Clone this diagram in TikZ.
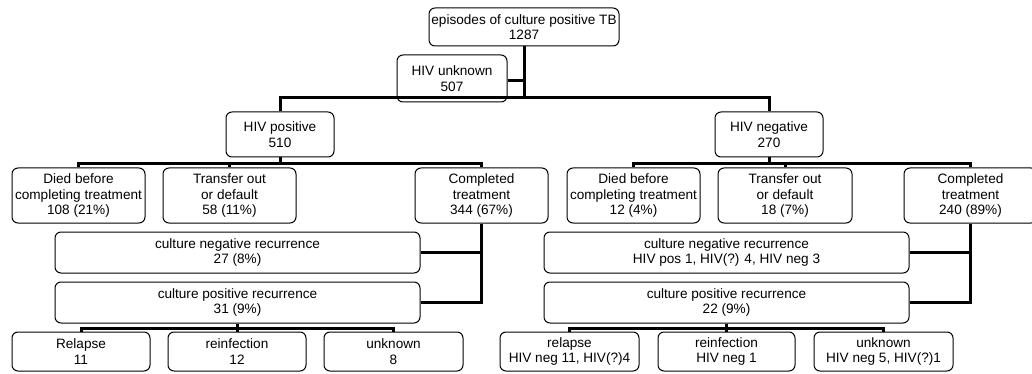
\documentclass[tikz,border=0pt]{standalone}
\usepackage{fontspec}
\setmainfont{Liberation Sans}
\usetikzlibrary{calc}
\tikzset{
  box/.style={draw=black, line width=1pt, rounded corners=6pt, align=center, inner sep=0pt,
    font=\fontsize{13.6}{15.5}\selectfont, fill=white},
  conn/.style={line width=3pt, line join=miter}
}
\begin{document}
\begin{tikzpicture}[x=1pt,y=-1pt]
\useasboundingbox (0,0) rectangle (1032,374);
\fill[white] (0,0) rectangle (1032,374);
\clip (0,0) rectangle (1032,374);
% nodes
\node[box, minimum width=190pt, minimum height=38pt] (top) at (524,27) {episodes of culture positive TB\\1287};
\node[box, minimum width=110pt, minimum height=47pt] (unk) at (452,78.5) {HIV unknown\\507};
\node[box, minimum width=108pt, minimum height=45pt] (pos) at (280,134.5) {HIV positive\\510};
\node[box, minimum width=108pt, minimum height=45pt] (neg) at (769,134.5) {HIV negative\\270};
\node[box, minimum width=133pt, minimum height=55pt] (d1) at (78.5,195.5) {Died before\\completing treatment\\108 (21\%)};
\node[box, minimum width=133pt, minimum height=55pt] (t1) at (229.5,195.5) {Transfer out\\or default\\58 (11\%)};
\node[box, minimum width=133pt, minimum height=55pt] (c1) at (481.5,195.5) {Completed\\treatment\\344 (67\%)};
\node[box, minimum width=133pt, minimum height=55pt] (d2) at (633.5,195.5) {Died before\\completing treatment\\12 (4\%)};
\node[box, minimum width=134pt, minimum height=55pt] (t2) at (785,195.5) {Transfer out\\or default\\18 (7\%)};
\node[box, minimum width=133pt, minimum height=55pt] (c2) at (970.5,195.5) {Completed\\treatment\\240 (89\%)};
\node[box, minimum width=365pt, minimum height=41pt] (cn1) at (237.5,252.5) {culture negative recurrence\\27 (8\%)};
\node[box, minimum width=365pt, minimum height=41pt] (cp1) at (237.5,302.5) {culture positive recurrence\\31 (9\%)};
\node[box, minimum width=365pt, minimum height=41pt] (cn2) at (726.5,252.5) {culture negative recurrence\\HIV pos 1, HIV(?) 4, HIV neg 3};
\node[box, minimum width=365pt, minimum height=41pt] (cp2) at (726.5,302.5) {culture positive recurrence\\22 (9\%)};
\node[box, minimum width=138pt, minimum height=39pt] (r1) at (81,351.5) {Relapse\\11};
\node[box, minimum width=138pt, minimum height=39pt] (i1) at (237,351.5) {reinfection\\12};
\node[box, minimum width=139pt, minimum height=39pt] (u1) at (393.5,351.5) {unknown\\8};
\node[box, minimum width=139pt, minimum height=39pt] (r2) at (569.5,351.5) {relapse\\HIV neg 11, HIV(?)4};
\node[box, minimum width=137pt, minimum height=39pt] (i2) at (726.5,351.5) {reinfection\\HIV neg 1};
\node[box, minimum width=139pt, minimum height=39pt] (u2) at (883.5,351.5) {unknown\\HIV neg 5, HIV(?)1};
% connectors
\coordinate (tb) at ($(top.south)+(0,51)$);
\draw[conn] (top.south) -- (tb);
\draw[conn] (pos.north) |- (tb) -| (neg.north);
\draw[conn] (unk.east |- 0,80.5) -- (top.south |- 0,80.5);
\coordinate (pb) at ($(pos.south)+(0,6)$);
\draw[conn] (pos.south) -- (pb);
\draw[conn] (d1.north) |- (pb) -| (c1.north);
\draw[conn] (t1.north) -- (t1.north |- pb);
\coordinate (nb) at ($(neg.south)+(0,6)$);
\draw[conn] (neg.south) -- (nb);
\draw[conn] (d2.north) |- (nb) -| (c2.north);
\draw[conn] (t2.north) -- (t2.north |- nb);
\draw[conn] (c1.south) |- (cp1.east);
\draw[conn] (c1.south |- cn1.east) -- (cn1.east);
\draw[conn] (c2.south) |- (cp2.east);
\draw[conn] (c2.south |- cn2.east) -- (cn2.east);
\coordinate (b1) at ($(cp1.south)+(0,5)$);
\draw[conn] (cp1.south) -- (b1);
\draw[conn] (r1.north) |- (b1) -| (u1.north);
\draw[conn] (i1.north) -- (i1.north |- b1);
\coordinate (b2) at ($(cp2.south)+(0,5)$);
\draw[conn] (cp2.south) -- (b2);
\draw[conn] (r2.north) |- (b2) -| (u2.north);
\draw[conn] (i2.north) -- (i2.north |- b2);
\end{tikzpicture}
\end{document}
